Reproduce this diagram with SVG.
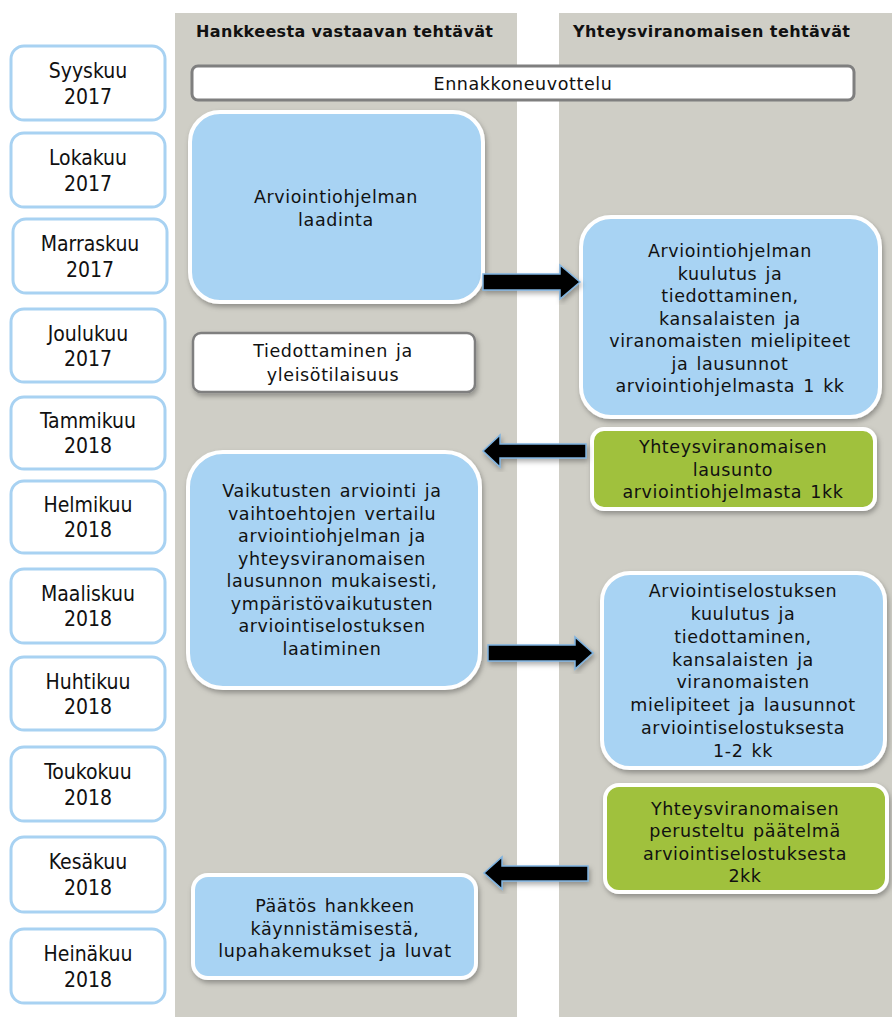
<svg xmlns="http://www.w3.org/2000/svg" width="892" height="1017" viewBox="0 0 892 1017">
<defs>
<filter id="sh" x="-10%" y="-10%" width="120%" height="125%">
<feDropShadow dx="1.5" dy="3" stdDeviation="2.5" flood-color="#000" flood-opacity="0.3"/>
</filter>
<style>
.col{fill:#cfcec6}
.month rect{fill:#fff;stroke:#a8d2f2;stroke-width:3}
.month text{font-family:"DejaVu Sans",Verdana,sans-serif;font-stretch:condensed;font-size:21px;fill:#111;text-anchor:middle}
.hdr{font-family:"DejaVu Sans",Verdana,sans-serif;font-weight:bold;font-size:16px;fill:#111}
.blue{fill:#a8d3f3;stroke:#fff;stroke-width:4;filter:url(#sh)}
.green{fill:#a0c13c;stroke:#fff;stroke-width:4;filter:url(#sh)}
.white{fill:#fff;stroke:#7f7f7f;stroke-width:2.5;filter:url(#sh)}
.t{font-family:"DejaVu Sans",Verdana,sans-serif;font-size:17.5px;letter-spacing:0.6px;word-spacing:2px;fill:#111;text-anchor:middle}
.arrow{fill:#000;stroke:#7fb3e0;stroke-width:1.5;stroke-linejoin:miter;filter:url(#sh)}
</style>
</defs>
<rect width="892" height="1017" fill="#fff"/>
<g id="columns">
<rect class="col" x="175" y="13" width="342" height="1004"/>
<rect class="col" x="559" y="13" width="333" height="1004"/>
<text class="hdr" x="196" y="37" textLength="297" lengthAdjust="spacing">Hankkeesta vastaavan tehtävät</text>
<text class="hdr" x="573" y="37" textLength="277" lengthAdjust="spacing">Yhteysviranomaisen tehtävät</text>
</g>
<g id="months">
<g id="m-syyskuu" class="month"><rect x="11" y="46" width="154" height="74" rx="13"/><text x="88" y="78">Syyskuu</text><text x="88" y="104">2017</text></g>
<g id="m-lokakuu" class="month"><rect x="11" y="133" width="154" height="74" rx="13"/><text x="88" y="165">Lokakuu</text><text x="88" y="191">2017</text></g>
<g id="m-marraskuu" class="month"><rect x="13" y="219" width="154" height="74" rx="13"/><text x="90" y="251">Marraskuu</text><text x="90" y="277">2017</text></g>
<g id="m-joulukuu" class="month"><rect x="11" y="309" width="154" height="73" rx="13"/><text x="88" y="341">Joulukuu</text><text x="88" y="366">2017</text></g>
<g id="m-tammikuu" class="month"><rect x="11" y="397" width="154" height="72" rx="13"/><text x="88" y="428">Tammikuu</text><text x="88" y="453">2018</text></g>
<g id="m-helmikuu" class="month"><rect x="11" y="481" width="154" height="72" rx="13"/><text x="88" y="512">Helmikuu</text><text x="88" y="537">2018</text></g>
<g id="m-maaliskuu" class="month"><rect x="11" y="569" width="154" height="74" rx="13"/><text x="88" y="601">Maaliskuu</text><text x="88" y="626">2018</text></g>
<g id="m-huhtikuu" class="month"><rect x="11" y="657" width="154" height="73" rx="13"/><text x="88" y="689">Huhtikuu</text><text x="88" y="714">2018</text></g>
<g id="m-toukokuu" class="month"><rect x="11" y="747" width="154" height="74" rx="13"/><text x="88" y="779">Toukokuu</text><text x="88" y="805">2018</text></g>
<g id="m-kesakuu" class="month"><rect x="11" y="837" width="154" height="75" rx="13"/><text x="88" y="869">Kesäkuu</text><text x="88" y="895">2018</text></g>
<g id="m-heinakuu" class="month"><rect x="11" y="929" width="154" height="74" rx="13"/><text x="88" y="961">Heinäkuu</text><text x="88" y="987">2018</text></g>
</g>
<g id="ennakkoneuvottelu">
<rect x="192" y="66" width="662" height="34" rx="6" fill="#fff" stroke="#7f7f7f" stroke-width="3"/>
<text class="t" x="523" y="90">Ennakkoneuvottelu</text>
</g>
<g id="laadinta">
<rect class="blue" x="190" y="112" width="293" height="190" rx="30"/>
<text class="t" x="336" y="203">Arviointiohjelman</text>
<text class="t" x="336" y="226">laadinta</text>
</g>
<g id="ohjelma-kuulutus">
<rect class="blue" x="581" y="217" width="299" height="200" rx="30"/>
<text class="t" x="730" y="257">Arviointiohjelman</text>
<text class="t" x="730" y="279.5">kuulutus ja</text>
<text class="t" x="730" y="302">tiedottaminen,</text>
<text class="t" x="730" y="324.5">kansalaisten ja</text>
<text class="t" x="730" y="347">viranomaisten mielipiteet</text>
<text class="t" x="730" y="369.5">ja lausunnot</text>
<text class="t" x="730" y="392">arviointiohjelmasta 1 kk</text>
</g>
<g id="tiedottaminen">
<rect class="white" x="193" y="333" width="282" height="59" rx="8"/>
<text class="t" x="333" y="357">Tiedottaminen ja</text>
<text class="t" x="333" y="381">yleisötilaisuus</text>
</g>
<g id="lausunto">
<rect class="green" x="592" y="429" width="283" height="80" rx="12"/>
<text class="t" x="733" y="453">Yhteysviranomaisen</text>
<text class="t" x="733" y="475.5">lausunto</text>
<text class="t" x="733" y="498">arviointiohjelmasta 1kk</text>
</g>
<g id="vaikutusten">
<rect class="blue" x="188" y="452" width="292" height="236" rx="35"/>
<text class="t" x="332" y="497">Vaikutusten arviointi ja</text>
<text class="t" x="332" y="519.5">vaihtoehtojen vertailu</text>
<text class="t" x="332" y="542">arviointiohjelman ja</text>
<text class="t" x="332" y="564.5">yhteysviranomaisen</text>
<text class="t" x="332" y="587">lausunnon mukaisesti,</text>
<text class="t" x="332" y="609.5">ympäristövaikutusten</text>
<text class="t" x="332" y="632">arviointiselostuksen</text>
<text class="t" x="332" y="654.5">laatiminen</text>
</g>
<g id="selostus-kuulutus">
<rect class="blue" x="602" y="573" width="283" height="195" rx="28"/>
<text class="t" x="743" y="597">Arviointiselostuksen</text>
<text class="t" x="743" y="620">kuulutus ja</text>
<text class="t" x="743" y="643">tiedottaminen,</text>
<text class="t" x="743" y="665.5">kansalaisten ja</text>
<text class="t" x="743" y="688">viranomaisten</text>
<text class="t" x="743" y="711">mielipiteet ja lausunnot</text>
<text class="t" x="743" y="734">arviointiselostuksesta</text>
<text class="t" x="743" y="757">1-2 kk</text>
</g>
<g id="paatelma">
<rect class="green" x="605" y="785" width="282" height="107" rx="14"/>
<text class="t" x="745" y="815">Yhteysviranomaisen</text>
<text class="t" x="745" y="837">perusteltu päätelmä</text>
<text class="t" x="745" y="859.5">arviointiselostuksesta</text>
<text class="t" x="745" y="882">2kk</text>
</g>
<g id="paatos">
<rect class="blue" x="193" y="875" width="283" height="103" rx="15"/>
<text class="t" x="335" y="912">Päätös hankkeen</text>
<text class="t" x="335" y="935">käynnistämisestä,</text>
<text class="t" x="335" y="957">lupahakemukset ja luvat</text>
</g>
<g id="connectors">
<polygon class="arrow" points="483,274 560,274 560,265 580,282 560,299 560,290 483,290"/>
<polygon class="arrow" points="483,451 500,435 500,444 586,444 586,458 500,458 500,467"/>
<polygon class="arrow" points="488,645 575,645 575,637 593,653 575,669 575,661 488,661"/>
<polygon class="arrow" points="484,873 502,857 502,866 588,866 588,881 502,881 502,889"/>
</g>
</svg>
